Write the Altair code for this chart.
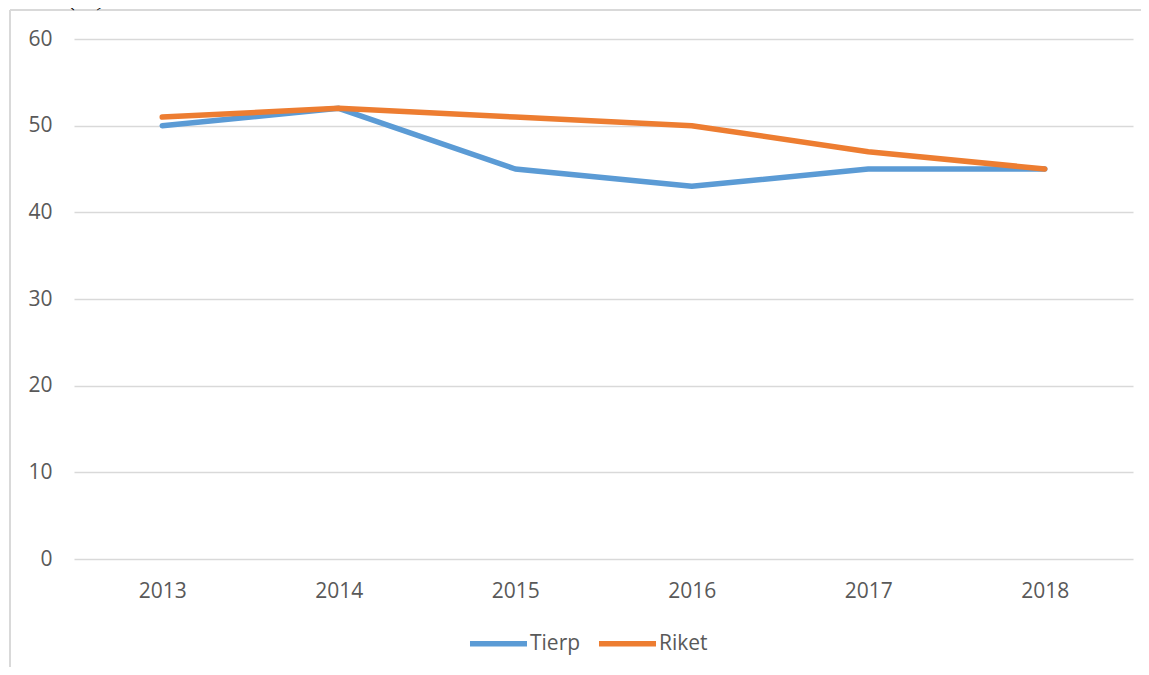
import altair as alt
import pandas as pd

years = ["2013", "2014", "2015", "2016", "2017", "2018"]
tierp = [50, 52, 45, 43, 45, 45]
riket = [51, 52, 51, 50, 47, 45]
series = ["Tierp", "Riket"]
colors = ["#5B9BD5", "#ED7D31"]
title_text = "Riket (%)"

rows = []
for name, vals in zip(series, [tierp, riket]):
    for y, v in zip(years, vals):
        rows.append({"År": y, "Värde": v, "Serie": name})
df = pd.DataFrame(rows)

FONT = "Open Sans"
TXT = "#595959"
GRID = "#D9D9D9"

lines = alt.Chart(df).mark_line(strokeWidth=5.5, strokeCap="round", strokeJoin="round").encode(
    x=alt.X("År:O", scale=alt.Scale(type="point", padding=0.5),
            axis=alt.Axis(title=None, labelAngle=0, ticks=False, domain=False,
                          labelPadding=21, labelFontSize=21, labelColor=TXT, labelFont=FONT)),
    y=alt.Y("Värde:Q", scale=alt.Scale(domain=[0, 60]),
            axis=alt.Axis(title=None, values=[0, 10, 20, 30, 40, 50, 60], ticks=False, domain=False,
                          gridColor=GRID, gridWidth=1.5, labelPadding=22, labelFontSize=21,
                          labelColor=TXT, labelFont=FONT)),
    color=alt.Color("Serie:N", sort=series,
                    scale=alt.Scale(domain=series, range=colors),
                    legend=alt.Legend(title=None, orient="none", legendX=393, legendY=573,
                                      direction="horizontal", symbolType="stroke",
                                      symbolSize=3250, symbolStrokeWidth=5.5, labelOffset=0,
                                      columnPadding=6, labelFontSize=21, labelColor=TXT,
                                      labelFont=FONT)),
    order=alt.Order("Serie:N", sort="descending"),
)

one = pd.DataFrame({"t": [title_text]})
frame_top = alt.Chart(one).mark_rule(color=GRID, strokeWidth=2).encode(
    x=alt.value(-64), x2=alt.value(1067), y=alt.value(-29))
frame_left = alt.Chart(one).mark_rule(color=GRID, strokeWidth=2).encode(
    x=alt.value(-64), y=alt.value(-29), y2=alt.value(628))
title = alt.Chart(one).mark_text(font="Liberation Serif", fontStyle="italic", fontSize=26,
                                 align="left", baseline="alphabetic", color="#000000").encode(
    x=alt.value(-66), y=alt.value(-34), text="t:N")

chart = alt.layer(frame_top, frame_left, lines, title).properties(
    width=1059, height=520,
    autosize=alt.AutoSizeParams(type="none"),
    padding={"left": 66, "top": 31, "right": 8, "bottom": 108},
).configure_view(stroke=None)

chart.save("out.html", embed_options={"renderer": "svg", "actions": False})
